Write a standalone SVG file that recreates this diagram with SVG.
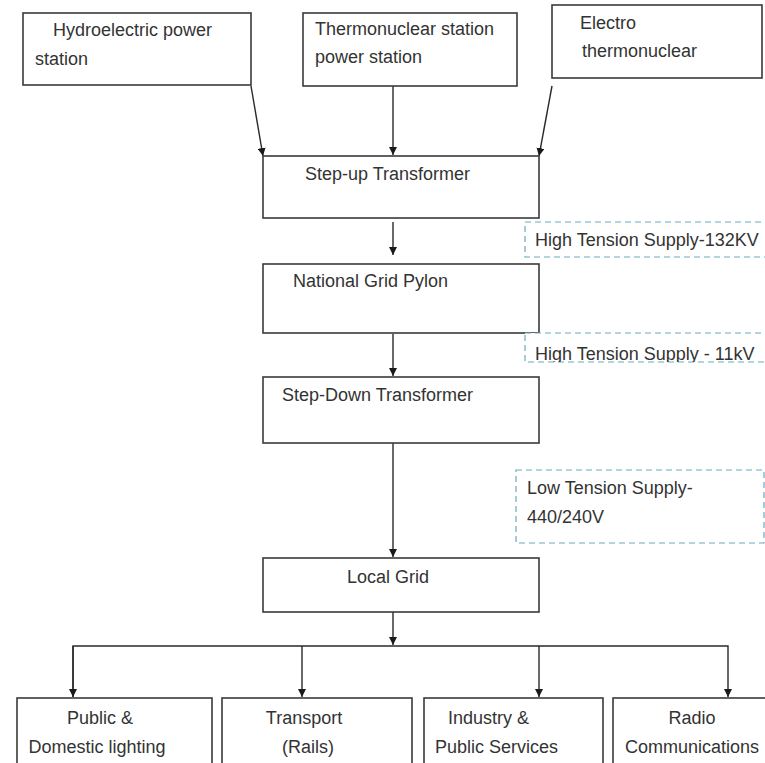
<svg xmlns="http://www.w3.org/2000/svg" width="765" height="763" viewBox="0 0 765 763">
<style>
.box{fill:#fff;stroke:#3a3a3a;stroke-width:1.6}
.note{fill:#fff;stroke:#6aa9bd;stroke-width:1.2;stroke-dasharray:6 4}
.t{font-family:"Liberation Sans",Arial,sans-serif;font-size:18px;fill:#333}
.c{text-anchor:middle}
.ln{fill:none;stroke:#2a2a2a;stroke-width:1.4}
</style>
<defs>
<marker id="ah" viewBox="0 0 10 10" refX="10" refY="5" markerWidth="8" markerHeight="8" markerUnits="userSpaceOnUse" orient="auto">
<path d="M0,0 L10,5 L0,10 z" fill="#1a1a1a"/>
</marker>
<clipPath id="clip11"><rect x="525" y="333" width="240" height="29"/></clipPath>
</defs>
<rect width="765" height="763" fill="#fff"/>

<g id="connectors">
<line class="ln" x1="251" y1="86" x2="263" y2="156" marker-end="url(#ah)"/>
<line class="ln" x1="393" y1="86" x2="393" y2="155" marker-end="url(#ah)"/>
<line class="ln" x1="552" y1="86" x2="539" y2="156" marker-end="url(#ah)"/>
<line class="ln" x1="393" y1="222" x2="393" y2="255" marker-end="url(#ah)"/>
<line class="ln" x1="393" y1="334" x2="393" y2="376" marker-end="url(#ah)"/>
<line class="ln" x1="393" y1="443" x2="393" y2="557" marker-end="url(#ah)"/>
<line class="ln" x1="393" y1="612" x2="393" y2="645" marker-end="url(#ah)"/>
<polyline class="ln" points="73,697 73,646 728,646 728,697" marker-end="url(#ah)"/>
<line class="ln" x1="73" y1="646" x2="73" y2="697" marker-end="url(#ah)"/>
<line class="ln" x1="302" y1="646" x2="302" y2="697" marker-end="url(#ah)"/>
<line class="ln" x1="539" y1="646" x2="539" y2="697" marker-end="url(#ah)"/>
</g>

<g id="hydro">
<rect class="box" x="23" y="13" width="228" height="72"/>
<text class="t" x="53" y="36">Hydroelectric power</text>
<text class="t" x="35" y="65">station</text>
</g>
<g id="thermo">
<rect class="box" x="303" y="13" width="214" height="73"/>
<text class="t" x="315" y="35">Thermonuclear station</text>
<text class="t" x="315" y="63">power station</text>
</g>
<g id="electro">
<rect class="box" x="552" y="5" width="210" height="73"/>
<text class="t" x="580" y="29">Electro</text>
<text class="t" x="582" y="57">thermonuclear</text>
</g>
<g id="stepup">
<rect class="box" x="263" y="156" width="276" height="62"/>
<text class="t" x="305" y="180">Step-up Transformer</text>
</g>
<g id="note132">
<rect class="note" x="525" y="222" width="245" height="35"/>
<text class="t" x="535" y="246">High Tension Supply-132KV</text>
</g>
<g id="pylon">
<rect class="box" x="263" y="264" width="276" height="69"/>
<text class="t" x="293" y="287">National Grid Pylon</text>
</g>
<g id="note11">
<rect class="note" x="525" y="333" width="245" height="29"/>
<text class="t" x="535" y="360" clip-path="url(#clip11)">High Tension Supply - 11kV</text>
</g>
<g id="stepdown">
<rect class="box" x="263" y="377" width="276" height="66"/>
<text class="t" x="282" y="401">Step-Down Transformer</text>
</g>
<g id="noteLow">
<rect class="note" x="516" y="470" width="248" height="73"/>
<text class="t" x="527" y="494">Low Tension Supply-</text>
<text class="t" x="527" y="523">440/240V</text>
</g>
<g id="localgrid">
<rect class="box" x="263" y="558" width="276" height="54"/>
<text class="t" x="347" y="583">Local Grid</text>
</g>
<g id="public">
<rect class="box" x="17" y="698" width="195" height="80"/>
<text class="t c" x="100" y="724">Public &amp;</text>
<text class="t c" x="97" y="753">Domestic lighting</text>
</g>
<g id="transport">
<rect class="box" x="222" y="698" width="190" height="80"/>
<text class="t c" x="304" y="724">Transport</text>
<text class="t c" x="308" y="753">(Rails)</text>
</g>
<g id="industry">
<rect class="box" x="424" y="698" width="179" height="80"/>
<text class="t" x="448" y="724">Industry &amp;</text>
<text class="t" x="435" y="753">Public Services</text>
</g>
<g id="radio">
<rect class="box" x="613" y="698" width="160" height="80"/>
<text class="t c" x="692" y="724">Radio</text>
<text class="t c" x="692" y="753">Communications</text>
</g>
</svg>
